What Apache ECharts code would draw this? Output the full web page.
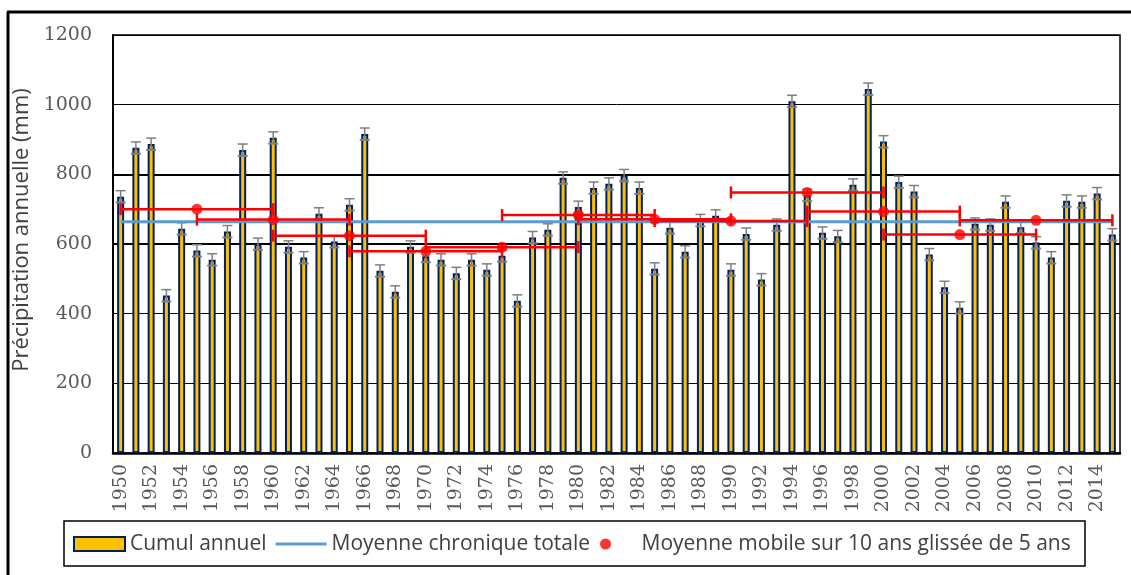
<!DOCTYPE html>
<html>
<head>
<meta charset="utf-8">
<script src="https://cdn.jsdelivr.net/npm/echarts@6/dist/echarts.min.js"></script>
<style>
  html, body { margin: 0; padding: 0; background: #fff; }
  #chart { width: 1131px; height: 575px; }
</style>
</head>
<body>
<div id="chart"></div>
<script>
// annual rainfall, 1950-2015
const years = ['1950', '1951', '1952', '1953', '1954', '1955', '1956', '1957', '1958', '1959',
  '1960', '1961', '1962', '1963', '1964', '1965', '1966', '1967', '1968', '1969',
  '1970', '1971', '1972', '1973', '1974', '1975', '1976', '1977', '1978', '1979',
  '1980', '1981', '1982', '1983', '1984', '1985', '1986', '1987', '1988', '1989',
  '1990', '1991', '1992', '1993', '1994', '1995', '1996', '1997', '1998', '1999',
  '2000', '2001', '2002', '2003', '2004', '2005', '2006', '2007', '2008', '2009',
  '2010', '2011', '2012', '2013', '2014', '2015'];

const cumul = [736, 876, 887, 452, 644, 581, 555, 636, 870, 600,
  905, 592, 561, 687, 607, 713, 916, 523, 463, 592,
  565, 555, 516, 555, 526, 566, 437, 619, 641, 790,
  706, 761, 773, 797, 761, 529, 647, 578, 668, 681,
  526, 629, 498, 655, 1010, 740, 632, 622, 770, 1045,
  894, 778, 751, 570, 476, 417, 658, 655, 721, 648,
  604, 561, 724, 721, 745, 627];

const barErr = 17;          // error bar on each yearly total (mm)
const meanTotal = 664;      // moyenne chronique totale

const maYears = ['1955', '1960', '1965', '1970', '1975', '1980', '1985', '1990', '1995', '2000', '2005', '2010'];
const maValues = [700, 670, 624, 579, 591, 683, 671, 666, 748, 693, 627, 668];
const maHalfSpan = 5;       // years on each side

const yTicks = { min: 0, max: 1200, interval: 200 };

const labelFont = 'DejaVu Serif';
const textFont = 'Open Sans';

function renderBarErr(params, api) {
  const x = api.value(0);
  const v = api.value(1);
  const hi = api.coord([x, v + barErr]);
  const lo = api.coord([x, v - barErr]);
  const w = 5;
  const style = { stroke: '#7f7f7f', lineWidth: 1.5 };
  return {
    type: 'group',
    children: [
      { type: 'line', shape: { x1: hi[0], y1: hi[1], x2: lo[0], y2: lo[1] }, style: style },
      { type: 'line', shape: { x1: hi[0] - w, y1: hi[1], x2: hi[0] + w, y2: hi[1] }, style: style },
      { type: 'line', shape: { x1: lo[0] - w, y1: lo[1], x2: lo[0] + w, y2: lo[1] }, style: { stroke: '#7f7f7f', lineWidth: 2 } }
    ]
  };
}

function renderMaErr(params, api) {
  const x = api.value(0);
  const v = api.value(1);
  const a = api.coord([x - maHalfSpan, v]);
  const b = api.coord([x + maHalfSpan, v]);
  const h = 6;
  const style = { stroke: '#ff0000', lineWidth: 2.5 };
  return {
    type: 'group',
    children: [
      { type: 'line', shape: { x1: a[0], y1: a[1], x2: b[0], y2: b[1] }, style: style },
      { type: 'line', shape: { x1: a[0], y1: a[1] - h, x2: a[0], y2: a[1] + h }, style: style },
      { type: 'line', shape: { x1: b[0], y1: b[1] - h, x2: b[0], y2: b[1] + h }, style: style }
    ]
  };
}

const chart = echarts.init(document.getElementById('chart'));

const option = {
  animation: false,
  backgroundColor: '#fff',
  grid: {
    left: 113, right: 11, top: 35, bottom: 122,
    show: true, borderColor: '#000', borderWidth: 1.5
  },
  legend: [
    {
      data: [
        { name: 'Cumul annuel', icon: 'rect' },
        { name: 'Moyenne chronique totale', icon: 'path://M0,0H52V3H0Z' }
      ],
      left: 73, top: 531,
      padding: 0,
      itemWidth: 51, itemHeight: 14, itemGap: 9,
      textStyle: { fontFamily: textFont, fontSize: 21, color: '#404040', lineHeight: 26 }
    },
    {
      data: [{ name: 'Moyenne mobile sur 10 ans glissée de 5 ans', icon: 'circle' }],
      left: 600, top: 531,
      padding: 0,
      itemWidth: 62, itemHeight: 11,
      textStyle: { fontFamily: textFont, fontSize: 21, color: '#404040', lineHeight: 26 }
    }
  ],
  xAxis: {
    type: 'category',
    data: years,
    boundaryGap: true,
    axisLine: { lineStyle: { color: '#000', width: 2.5 } },
    axisTick: { show: false },
    axisLabel: {
      interval: 1,
      rotate: 90,
      margin: 11,
      fontFamily: labelFont,
      fontSize: 19,
      color: '#595959'
    }
  },
  yAxis: [
    {
      type: 'value',
      min: yTicks.min, max: yTicks.max, interval: yTicks.interval,
      name: 'Précipitation annuelle (mm)',
      nameLocation: 'middle',
      nameGap: 63,
      nameTextStyle: { fontFamily: textFont, fontSize: 22, color: '#404040', padding: [0, 0, 0, 28] },
      axisLine: { show: true, lineStyle: { color: '#000', width: 2 } },
      axisTick: { show: false },
      axisLabel: {
        margin: 21, fontFamily: labelFont, fontSize: 19, color: '#595959',
        formatter: function (v) { return String(v); }
      },
      splitLine: { lineStyle: { color: '#000', width: 1 } }
    },
    {
      // heavier rules at 600 and 800
      type: 'value',
      min: yTicks.min, max: yTicks.max, interval: yTicks.interval,
      position: 'left',
      axisLine: { show: false },
      axisTick: { show: false },
      axisLabel: { show: false },
      splitLine: {
        lineStyle: {
          color: ['transparent', 'transparent', 'transparent', '#000', '#000', 'transparent', 'transparent'],
          width: 2
        }
      }
    }
  ],
  series: [
    {
      name: 'Cumul annuel',
      type: 'bar',
      data: cumul,
      barWidth: 7,
      itemStyle: { color: '#ffc000', borderColor: '#002060', borderWidth: 2 },
      z: 2
    },
    {
      name: 'errBars',
      type: 'custom',
      data: years.map((y, i) => [i, cumul[i]]),
      renderItem: renderBarErr,
      encode: { x: 0, y: 1 },
      silent: true,
      z: 3
    },
    {
      name: 'Moyenne chronique totale',
      type: 'line',
      data: years.map(() => meanTotal),
      symbol: 'none',
      lineStyle: { color: '#5b9bd5', width: 3 },
      itemStyle: { color: '#5b9bd5' },
      z: 4
    },
    {
      name: 'maErr',
      type: 'custom',
      data: maYears.map((y, i) => [y, maValues[i]]),
      renderItem: renderMaErr,
      encode: { x: 0, y: 1 },
      silent: true,
      z: 5
    },
    {
      name: 'Moyenne mobile sur 10 ans glissée de 5 ans',
      type: 'scatter',
      data: maYears.map((y, i) => [y, maValues[i]]),
      symbol: 'circle',
      symbolSize: 11,
      itemStyle: { color: '#ff0000' },
      z: 6
    }
  ],
  graphic: [
    { type: 'line', shape: { x1: 8, y1: 12, x2: 8, y2: 575 }, style: { stroke: '#000', lineWidth: 3 } },
    { type: 'line', shape: { x1: 7, y1: 12, x2: 1131, y2: 12 }, style: { stroke: '#000', lineWidth: 3 } },
    { type: 'rect', shape: { x: 64, y: 521, width: 1021, height: 45 }, style: { fill: 'none', stroke: '#000', lineWidth: 1.5 }, z: 10 }
  ]
};

chart.setOption(option);

window.addEventListener('resize', function() {
  chart.resize();
});
</script>
</body>
</html>
